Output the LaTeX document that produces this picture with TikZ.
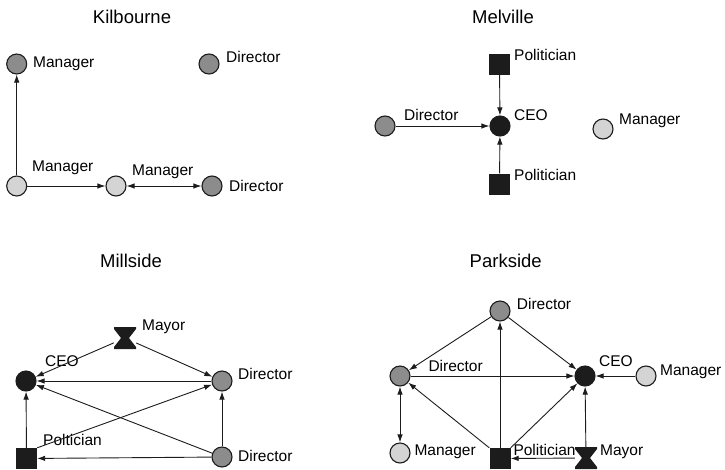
\documentclass[tikz,border=0pt]{standalone}
\usepackage{fontspec}
\setmainfont{Liberation Sans}
\usepackage{xcolor}
\usepackage{tikz}
\usetikzlibrary{arrows.meta}
\definecolor{inkblack}{HTML}{1C1C1C}
\definecolor{midgray}{HTML}{8C8C8C}
\definecolor{palegray}{HTML}{D4D4D4}

\begin{document}
\begin{tikzpicture}[x=1pt,y=1pt,font=\fontsize{15.5}{18}\selectfont,
  actor/.style={circle,draw=inkblack,line width=1.1pt,minimum size=20pt,inner sep=0pt},
  mgr/.style={actor,fill=palegray},
  dir/.style={actor,fill=midgray},
  ceo/.style={actor,fill=inkblack},
  pol/.style={rectangle,fill=inkblack,minimum size=21pt,inner sep=0pt},
  mayor/.style={rectangle,minimum size=22pt,inner sep=0pt,
    path picture={\fill[inkblack,shift={(path picture bounding box.center)}]
      (-11,11) -- (11,11) -- (11,9) -- (4,0) -- (11,-9) -- (11,-11)
      -- (-11,-11) -- (-11,-9) -- (-4,0) -- (-11,9) -- cycle;}},
  lbl/.style={anchor=base west,inner sep=0pt},
  ttl/.style={anchor=base,inner sep=0pt,font=\fontsize{18.5}{22}\selectfont},
  tie/.style={-{Latex[length=8pt,width=5.5pt]},line width=0.9pt,draw=inkblack},
  both/.style={{Latex[length=8pt,width=5.5pt]}-{Latex[length=8pt,width=5.5pt]},line width=0.9pt,draw=inkblack}]
  \useasboundingbox (0,0) rectangle (725,-469);

  % Kilbourne
  \node[ttl] (kt) at (132,-23.3) {Kilbourne};
  \node[dir] (km1) at (16.7,-64) {};
  \node[dir] (kd1) at (209,-64) {};
  \node[mgr] (km2) at (16.7,-186) {};
  \node[mgr] (km3) at (116,-186) {};
  \node[dir] (kd2) at (212,-186) {};
  \node[lbl] (kl1) at (33,-67.7) {Manager};
  \node[lbl] (kl2) at (226,-62.7) {Director};
  \node[lbl] (kl3) at (32,-171.7) {Manager};
  \node[lbl] (kl4) at (132,-175) {Manager};
  \node[lbl] (kl5) at (229,-191) {Director};
  \draw[tie] (km2) -- (km1);
  \draw[tie] (km2) -- (km3);
  \draw[both] (km3) -- (kd2);

  % Melville
  \node[ttl] (mt) at (503,-23) {Melville};
  \node[pol] (mp1) at (499.5,-64) {};
  \node[ceo] (mc) at (500,-126) {};
  \node[pol] (mp2) at (499.5,-184) {};
  \node[dir] (md) at (385,-126) {};
  \node[mgr] (mm) at (603,-129) {};
  \node[lbl] (ml1) at (514,-60.7) {Politician};
  \node[lbl] (ml2) at (514,-120) {CEO};
  \node[lbl] (ml3) at (404,-120) {Director};
  \node[lbl] (ml4) at (619,-124.3) {Manager};
  \node[lbl] (ml5) at (514,-180) {Politician};
  \draw[tie] (mp1) -- (mc);
  \draw[tie] (mp2) -- (mc);
  \draw[tie] (md) -- (mc);

  % Millside
  \node[ttl] (st) at (131,-267.3) {Millside};
  \node[mayor] (sm) at (125,-338) {};
  \node[ceo] (sc) at (26,-381) {};
  \node[dir] (sd1) at (222,-381) {};
  \node[dir] (sd2) at (222,-457) {};
  \node[pol] (sp) at (26.5,-458.5) {};
  \node[lbl] (sl1) at (142,-330) {Mayor};
  \node[lbl] (sl2) at (45,-366.7) {CEO};
  \node[lbl] (sl3) at (238,-379.3) {Director};
  \node[lbl] (sl4) at (43,-445.3) {Poltician};
  \node[lbl] (sl5) at (238,-461.7) {Director};
  \draw[tie] (sm) -- (sc);
  \draw[tie] (sm) -- (sd1);
  \draw[tie] (sd1) -- (sc);
  \draw[tie] (sd2) -- (sc);
  \draw[tie] (sp.north east) -- (sd1);
  \draw[tie] (sd2) -- (sd1);
  \draw[tie] (sd2) -- (sp);
  \draw[tie] (sp) -- (sc);

  % Parkside
  \node[ttl] (pt) at (505.7,-267.3) {Parkside};
  \node[dir] (pd1) at (500,-311) {};
  \node[dir] (pd2) at (400,-376) {};
  \node[ceo] (pc) at (585,-376) {};
  \node[mgr] (pm1) at (646,-376) {};
  \node[mgr] (pm2) at (400,-453) {};
  \node[pol] (pp) at (500,-458.5) {};
  \node[mayor] (py) at (586,-458) {};
  \node[lbl] (pl1) at (516.7,-309.3) {Director};
  \node[lbl] (pl2) at (428.3,-371) {Director};
  \node[lbl] (pl3) at (599,-366.7) {CEO};
  \node[lbl] (pl4) at (660,-375) {Manager};
  \node[lbl] (pl5) at (414.3,-455) {Manager};
  \node[lbl] (pl6) at (513.3,-455) {Politician};
  \node[lbl] (pl7) at (600,-455) {Mayor};
  \draw[tie] (pd1) -- (pd2);
  \draw[tie] (pd1) -- (pc);
  \draw[tie] (pd2) -- (pc);
  \draw[tie] (pm1) -- (pc);
  \draw[both] (pd2) -- (pm2);
  \draw[tie] (pp) -- (pd1);
  \draw[tie] (pp.north west) -- (pd2);
  \draw[tie] (pp.north east) -- (pc);
  \draw[tie] (py) -- (pc);
  \draw[tie] (py) -- (pp);
\end{tikzpicture}
\end{document}
